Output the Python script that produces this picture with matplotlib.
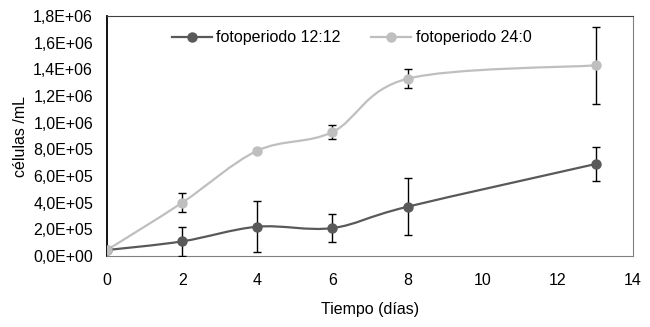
import numpy as np
import matplotlib
matplotlib.use('Agg')
from matplotlib import pyplot as plt
from matplotlib.path import Path
from matplotlib.patches import PathPatch
from matplotlib.ticker import FuncFormatter

plt.rcParams['font.family'] = ['Liberation Sans', 'DejaVu Sans']

# Data
dias = [0, 2, 4, 6, 8, 13]
foto_12_12 = [0.045e6, 0.11e6, 0.22e6, 0.21e6, 0.37e6, 0.69e6]
err_12_12 = [0.0, 0.11e6, 0.19e6, 0.105e6, 0.215e6, 0.125e6]
foto_24_0 = [0.045e6, 0.40e6, 0.79e6, 0.93e6, 1.33e6, 1.43e6]
err_24_0 = [0.0, 0.07e6, 0.01e6, 0.05e6, 0.07e6, 0.29e6]

dark = '#595959'
light = '#bfbfbf'


def smooth_path(x, y):
    # Excel-like smoothed line: Catmull-Rom segments as cubic Bezier curves
    x = np.asarray(x, float)
    y = np.asarray(y, float)
    verts = [(x[0], y[0])]
    codes = [Path.MOVETO]
    n = len(x)
    for i in range(n - 1):
        p0 = (x[max(i - 1, 0)], y[max(i - 1, 0)])
        p1 = (x[i], y[i])
        p2 = (x[i + 1], y[i + 1])
        p3 = (x[min(i + 2, n - 1)], y[min(i + 2, n - 1)])
        c1 = (p1[0] + (p2[0] - p0[0]) / 6, p1[1] + (p2[1] - p0[1]) / 6)
        c2 = (p2[0] - (p3[0] - p1[0]) / 6, p2[1] - (p3[1] - p1[1]) / 6)
        verts += [c1, c2, p2]
        codes += [Path.CURVE4] * 3
    return Path(verts, codes)


fig = plt.figure(figsize=(6.5, 3.27), dpi=100)
ax = fig.add_axes([0.1646, 0.217, 0.8094, 0.734])

for ys, es, c, lab in [(foto_12_12, err_12_12, dark, 'fotoperiodo 12:12'),
                       (foto_24_0, err_24_0, light, 'fotoperiodo 24:0')]:
    ax.add_patch(PathPatch(smooth_path(dias, ys), facecolor='none',
                           edgecolor=c, lw=1.6, zorder=2))
    ax.errorbar(dias, ys, yerr=es, fmt='none', ecolor='black', elinewidth=1,
                capsize=3, capthick=1, zorder=3)
    ax.plot(dias, ys, ls='none', marker='o', ms=6.5, color=c, zorder=4)
    ax.plot([], [], color=c, lw=1.6, marker='o', ms=6.5, label=lab)

ax.set_xlim(0, 14)
ax.set_ylim(0, 1.8e6)
ax.set_xticks(range(0, 15, 2))
ax.set_yticks(np.arange(0, 1.81e6, 0.2e6))


def fmt(v, pos):
    s = '%.1E' % v
    mant, exp = s.split('E')
    return mant.replace('.', ',') + 'E' + exp[0] + exp[1:].zfill(2)


ax.yaxis.set_major_formatter(FuncFormatter(fmt))
ax.tick_params(axis='both', length=0, labelsize=11.5, colors='black')
ax.tick_params(axis='y', pad=10)
ax.tick_params(axis='x', pad=12)

ax.spines['left'].set_color('black')
ax.spines['left'].set_linewidth(1.3)
ax.spines['top'].set_color('#404040')
ax.spines['right'].set_color('#808080')
ax.spines['bottom'].set_color('#808080')

ax.set_xlabel('Tiempo (días)', fontsize=11.5, labelpad=10)
ax.set_ylabel('células /mL', fontsize=11.5, labelpad=4)

ax.legend(loc='upper center', bbox_to_anchor=(0.465, 1.0), ncol=2, frameon=False,
          fontsize=11.5, handlelength=2.5, columnspacing=1.9, handletextpad=0.3)

fig.savefig('out.png', dpi=100)
